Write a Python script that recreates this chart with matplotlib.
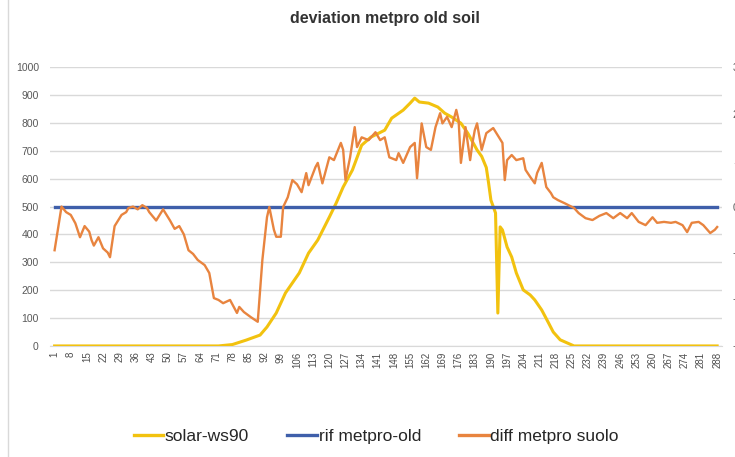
import matplotlib
matplotlib.use("Agg")
import matplotlib.pyplot as plt
from matplotlib.lines import Line2D

plt.rcParams['font.family'] = ['Liberation Sans', 'DejaVu Sans']

# x = 5-minute slot of the day (1..288)
solar_x = [1, 72, 78, 84, 90, 93, 97, 101, 107, 111, 115, 120, 123, 126, 130, 134,
           138, 144, 147, 152, 155, 157, 159, 163, 167, 170, 173, 177, 180, 184, 186,
           188, 189, 190, 192, 193, 194, 195, 197, 199, 201, 204, 207, 209, 212, 215,
           217, 220, 223, 226, 288]
solar_y = [0, 0, 5, 21, 39, 68, 118, 190, 262, 333, 380, 462, 513, 570, 631, 720,
           749, 774, 817, 846, 871, 889, 875, 871, 857, 835, 821, 799, 763, 703, 680,
           640, 584, 523, 477, 118, 427, 416, 355, 319, 262, 201, 183, 165, 129, 82,
           50, 22, 11, 0, 0]

rif_x = [1, 288]
rif_y = [500, 500]

# diff series, secondary axis units
diff_x = [1, 4, 6, 8, 10, 12, 14, 16, 17, 18, 20, 22, 24, 25, 27, 30, 32, 33, 35, 37,
          39, 41, 42, 45, 48, 51, 53, 55, 57, 59, 61, 63, 66, 68, 70, 72, 74, 77, 80, 81,
          83, 86, 89, 91, 93, 94, 96, 97, 99, 100, 102, 104, 106, 108, 110, 111, 114, 115,
          117, 120, 122, 125, 126, 127, 129, 131, 132, 134, 137, 140, 142, 144, 146, 149,
          150, 152, 155, 157, 158, 160, 162, 164, 166, 168, 169, 171, 173, 175, 176, 177,
          179, 181, 182, 183, 184, 186, 188, 191, 195, 196, 197, 199, 201, 204, 205, 207,
          209, 210, 212, 214, 216, 217, 219, 222, 226, 228, 231, 234, 237, 240, 243, 246,
          249, 251, 254, 257, 260, 262, 265, 268, 270, 273, 275, 277, 280, 282, 285, 287, 288]
diff_y = [-0.94, 0.0, -0.12, -0.18, -0.36, -0.66, -0.42, -0.54, -0.72, -0.84, -0.66, -0.90,
          -0.99, -1.09, -0.42, -0.18, -0.12, -0.03, 0.0, -0.06, 0.03, -0.03, -0.12, -0.30,
          -0.06, -0.30, -0.48, -0.42, -0.60, -0.94, -1.02, -1.15, -1.26, -1.43, -1.97, -2.01,
          -2.08, -2.01, -2.29, -2.16, -2.27, -2.38, -2.48, -1.15, -0.23, -0.01, -0.50, -0.65,
          -0.65, -0.01, 0.20, 0.57, 0.48, 0.31, 0.72, 0.46, 0.85, 0.94, 0.50, 1.06, 1.00,
          1.37, 1.22, 0.57, 1.06, 1.71, 1.28, 1.49, 1.43, 1.60, 1.43, 1.49, 1.06, 1.00, 1.15,
          0.94, 1.28, 1.37, 0.61, 1.79, 1.28, 1.22, 1.71, 2.01, 1.79, 1.93, 1.71, 2.08, 1.86,
          0.94, 1.71, 1.00, 1.37, 1.64, 1.79, 1.22, 1.58, 1.69, 1.37, 0.57, 1.00, 1.11, 1.00,
          1.04, 0.79, 0.64, 0.50, 0.72, 0.94, 0.42, 0.29, 0.20, 0.14, 0.07, -0.03, -0.14,
          -0.25, -0.29, -0.20, -0.14, -0.25, -0.14, -0.25, -0.14, -0.33, -0.40, -0.23, -0.35,
          -0.33, -0.35, -0.33, -0.40, -0.55, -0.35, -0.33, -0.40, -0.57, -0.50, -0.44]

xticks = list(range(1, 289, 7))
left_ticks = list(range(0, 1001, 100))
right_ticks = [-3, -2, -1, 0, 1, 2, 3]

c_solar = '#F2C20F'
c_rif = '#3F5FAA'
c_diff = '#E8843F'
c_text = '#595959'

fig = plt.figure(figsize=(7.35, 4.57), dpi=100)
ax = fig.add_axes([0.068, 0.243, 0.914, 0.61])

ax.plot(solar_x, solar_y, color=c_solar, lw=2.2, label='solar-ws90', zorder=3)
ax.plot(rif_x, rif_y, color=c_rif, lw=2.4, label='rif metpro-old', zorder=3)
ax.set_xlim(-1, 290)
ax.set_ylim(0, 1000)
ax.set_yticks(left_ticks)
ax.set_xticks(xticks)
ax.set_xticklabels([str(t) for t in xticks], rotation=90, fontsize=7, color='#4d4d4d')
ax.tick_params(axis='y', length=0, labelsize=7.5, labelcolor=c_text, pad=8)
ax.tick_params(axis='x', length=0, pad=4)
ax.grid(axis='y', color='#D9D9D9', lw=1)
ax.set_axisbelow(True)
for s in ['top', 'left', 'right']:
    ax.spines[s].set_visible(False)
ax.spines['bottom'].set_color('#D9D9D9')

ax2 = ax.twinx()
ax2.plot(diff_x, diff_y, color=c_diff, lw=1.7, label='diff metpro suolo', zorder=4)
ax2.set_ylim(-3, 3)
ax2.set_yticks(right_ticks)
ax2.tick_params(axis='y', length=0, labelsize=7.5, labelcolor=c_text, pad=8)
for s in ax2.spines.values():
    s.set_visible(False)

fig.text(0.524, 0.96, 'deviation metpro old soil', ha='center', va='center',
         fontsize=11.5, fontweight='bold', color='#333333')

handles = [Line2D([], [], color=c_solar, lw=2.4),
           Line2D([], [], color=c_rif, lw=2.4),
           Line2D([], [], color=c_diff, lw=2.4)]
fig.legend(handles, ['solar-ws90', 'rif metpro-old', 'diff metpro suolo'],
           loc='center', bbox_to_anchor=(0.512, 0.045), ncol=3, frameon=False,
           fontsize=12.5, handlelength=1.7, handletextpad=0.1, columnspacing=2.2,
           labelcolor='#262626')

# chart border at the left
fig.add_artist(Line2D([0.011, 0.011], [0, 1], transform=fig.transFigure,
                      color='#D9D9D9', lw=1))

fig.savefig('out.png', dpi=100)
